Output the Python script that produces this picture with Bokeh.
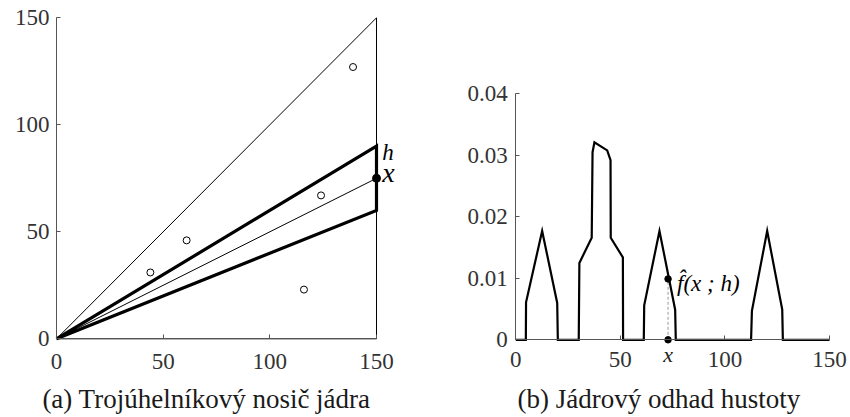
from bokeh.plotting import figure
from bokeh.layouts import row
from bokeh.models import Range1d, FixedTicker, Label
from bokeh.embed import file_html
from bokeh.resources import INLINE

# ---------------- data: panel (a) ----------------
pts_x = [44, 61, 116, 124, 139]
pts_y = [31, 46, 23, 67, 127]
tri_x = [0, 150, 150, 0]
tri_y = [0, 150, 0, 0]
x_pos = 150
x_val = 75
h_half = 15
ticks_a = [0, 50, 100, 150]

# ---------------- data: panel (b) ----------------
dens_x = [0, 4.8, 4.9, 12.6, 19.8, 20.1, 30.1, 30.4, 36.3, 36.7, 37.6, 43.7, 45.3,
          45.4, 51.2, 51.3, 61.2, 61.4, 68.7, 76.2, 76.5, 112.5, 112.9, 120.2, 127.4,
          127.7, 150]
dens_y = [0, 0, 0.0061, 0.0177, 0.0060, 0, 0, 0.0125, 0.0166, 0.0305, 0.0321, 0.0308,
          0.0292, 0.0166, 0.0134, 0, 0, 0.0056, 0.0177, 0.0049, 0, 0, 0.0047, 0.0177,
          0.0049, 0, 0]
x_eval = 72.8
f_eval = 0.0099
ticks_bx = [0, 50, 100, 150]
ticks_by = [0, 0.01, 0.02, 0.03, 0.04]
tick_labels_by = ["0", "0.01", "0.02", "0.03", "0.04"]

FONT = "'Liberation Serif', 'Times New Roman', serif"
TICK_COL = "#333333"
AXIS_COL = "#555555"
H = 417


def style_axes(p, xticks, yticks):
    for ax in (p.xaxis[0], p.yaxis[0]):
        ax.fixed_location = 0
        ax.major_label_text_font = FONT
        ax.major_label_text_font_size = "23px"
        ax.major_label_text_color = TICK_COL
        ax.axis_line_color = AXIS_COL
        ax.major_tick_line_color = AXIS_COL
        ax.major_tick_in = 4
        ax.major_tick_out = 0
        ax.minor_tick_line_color = None
    p.xaxis[0].ticker = FixedTicker(ticks=xticks)
    p.yaxis[0].ticker = FixedTicker(ticks=yticks)
    p.xaxis[0].bounds = (xticks[0], xticks[-1])
    p.yaxis[0].bounds = (yticks[0], yticks[-1])
    p.xgrid.grid_line_color = None
    p.ygrid.grid_line_color = None
    p.outline_line_color = None
    p.background_fill_color = "white"
    p.border_fill_color = "white"


def make_fig(w, x0px, x1px, xlo, xhi, y0px, y1px, ylo, yhi):
    # ranges chosen so that data xlo..xhi lands on pixels x0px..x1px (same for y)
    sx = (x1px - x0px) / (xhi - xlo)
    sy = (y0px - y1px) / (yhi - ylo)
    xr = Range1d(xlo - x0px / sx, xhi + (w - x1px) / sx)
    yr = Range1d(ylo - (H - y0px) / sy, yhi + y1px / sy)
    return figure(x_range=xr, y_range=yr, frame_width=w, frame_height=H,
                  min_border=0, min_border_left=0, min_border_right=0,
                  min_border_top=0, min_border_bottom=0,
                  output_backend="svg", toolbar_location=None)


# ---------------- panel (a) ----------------
pa = make_fig(408, 56, 376, 0, 150, 338.3, 17.3, 0, 150)
style_axes(pa, ticks_a, ticks_a)
pa.xaxis[0].major_label_standoff = 15
pa.yaxis[0].major_label_standoff = 7

pa.line(tri_x, tri_y, line_color="black", line_width=1)
pa.line([0, x_pos], [0, x_val], line_color="black", line_width=1)
pa.line([0, x_pos, x_pos, 0], [0, x_val + h_half, x_val - h_half, 0],
        line_color="black", line_width=3.2, line_join="miter")
pa.scatter(pts_x, pts_y, marker="circle", size=7, fill_color="white",
           line_color="black", line_width=1)
pa.scatter([x_pos], [x_val], marker="circle", size=8, fill_color="black", line_color="black")

pa.add_layout(Label(x=152.7, y=81, text="h", text_font=FONT, text_font_style="italic",
                    text_font_size="23px", text_color="black"))
pa.add_layout(Label(x=152.7, y=70.5, text="x", text_font=FONT, text_font_style="italic",
                    text_font_size="28px", text_color="black"))
pa.add_layout(Label(x=70.3, y=-28.3, text="(a) Trojúhelníkový nosič jádra", text_font=FONT,
                    text_font_size="27px", text_color="#1a1a1a", text_align="center",
                    text_baseline="alphabetic"))

# ---------------- panel (b) ----------------
pb = make_fig(442, 107.3, 421, 0, 150, 339.3, 93.3, 0, 0.04)
style_axes(pb, ticks_bx, ticks_by)
pb.yaxis[0].major_label_overrides = {t: l for t, l in zip(ticks_by, tick_labels_by)}
pb.xaxis[0].major_label_standoff = 12
pb.yaxis[0].major_label_standoff = 8

pb.line(dens_x, dens_y, line_color="black", line_width=2.2, line_join="miter")
pb.line([x_eval, x_eval], [0, f_eval], line_color="#999999", line_width=1, line_dash="3 2")
pb.scatter([x_eval, x_eval], [0, f_eval], marker="circle", size=6.5,
           fill_color="black", line_color="black")

pb.add_layout(Label(x=77.1, y=0.0092, text="f\u0302(x ; h)", text_font=FONT,
                    text_font_style="italic", text_font_size="23px", text_color="black",
                    text_baseline="alphabetic"))
pb.add_layout(Label(x=x_eval, y=-0.0024, text="x", text_font=FONT, text_font_style="italic",
                    text_font_size="22px", text_color="#222222", text_align="center",
                    text_baseline="middle"))
pb.add_layout(Label(x=68.4, y=-0.0097, text="(b) Jádrový odhad hustoty", text_font=FONT,
                    text_font_size="27px", text_color="#1a1a1a", text_align="center",
                    text_baseline="alphabetic"))

layout = row(pa, pb)
open("out.html", "w").write(file_html(layout, INLINE))
